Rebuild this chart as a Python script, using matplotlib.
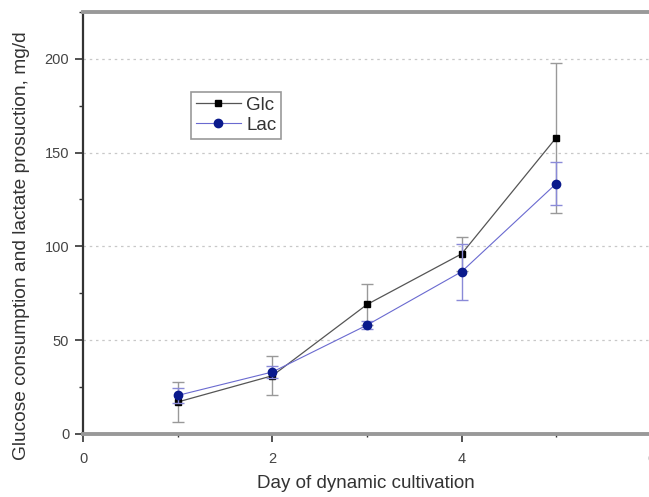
import matplotlib.pyplot as plt
from matplotlib.ticker import MultipleLocator

# values
days = [1, 2, 3, 4, 5]
glc = [17, 31, 69, 96, 158]
glc_err = [10.5, 10.3, 11, 9, 40]
lac = [20.5, 33, 58, 86.5, 133.5]
lac_err = [4, 3, 2, 15, 11.5]

plt.rcParams['font.family'] = ['Liberation Sans', 'DejaVu Sans']

fig = plt.figure(figsize=(6.49, 4.97), dpi=100)
ax = fig.add_axes([0.128, 0.127, 0.875, 0.849])

ax.errorbar(days, glc, yerr=glc_err, color='#555555', lw=0.9,
            marker='s', ms=5, mfc='black', mec='black',
            ecolor='#999999', elinewidth=1, capsize=4, capthick=1,
            label='Glc', zorder=3)
ax.errorbar(days, lac, yerr=lac_err, color='#6a6ad0', lw=0.8,
            marker='o', ms=6, mfc='#0a1a8c', mec='#0a1a8c',
            ecolor='#8a8ad8', elinewidth=1, capsize=4, capthick=1,
            label='Lac', zorder=4)

ax.set_xlim(0, 6)
ax.set_ylim(0, 225)
ax.xaxis.set_major_locator(MultipleLocator(2))
ax.xaxis.set_minor_locator(MultipleLocator(1))
ax.yaxis.set_major_locator(MultipleLocator(50))
ax.yaxis.set_minor_locator(MultipleLocator(25))
ax.grid(axis='y', which='major', ls=(0, (2, 3)), color='#c8c8c8', lw=0.9)

ax.tick_params(which='major', length=6, width=1.2, color='#333333',
               labelsize=10.5, labelcolor='#444444', pad=4)
ax.tick_params(which='minor', length=3, width=1.0, color='#333333')
ax.tick_params(axis='x', which='minor', length=2.5)
ax.tick_params(axis='x', which='major', pad=7)

ax.spines['left'].set_color('#333333')
ax.spines['left'].set_linewidth(1.6)
ax.spines['bottom'].set_color('#999999')
ax.spines['bottom'].set_linewidth(2.8)
ax.spines['top'].set_color('#999999')
ax.spines['top'].set_linewidth(2.8)
ax.spines['right'].set_visible(False)

ax.set_xlabel('Day of dynamic cultivation', fontsize=13.5, color='#333333')
ax.xaxis.set_label_coords(0.498, -0.097)
ax.set_ylabel('Glucose consumption and lactate prosuction, mg/d', fontsize=13.8,
              color='#333333')
ax.yaxis.set_label_coords(-0.094, 0.447)

glc_line = plt.Line2D([], [], color='#555555', lw=0.9, marker='s', ms=5,
                      mfc='black', mec='black')
lac_line = plt.Line2D([], [], color='#6a6ad0', lw=0.8, marker='o', ms=6,
                      mfc='#0a1a8c', mec='#0a1a8c')
leg = ax.legend([glc_line, lac_line], ['Glc', 'Lac'], loc='upper left',
                bbox_to_anchor=(0.19, 0.81), fontsize=13.5,
                fancybox=False, framealpha=1, edgecolor='#999999',
                handlelength=2.4, handletextpad=0.3, borderpad=0.25,
                labelspacing=0.15, borderaxespad=0)
leg.get_frame().set_linewidth(1.2)
for t in leg.get_texts():
    t.set_color('#333333')

fig.savefig('out.png', dpi=100)
